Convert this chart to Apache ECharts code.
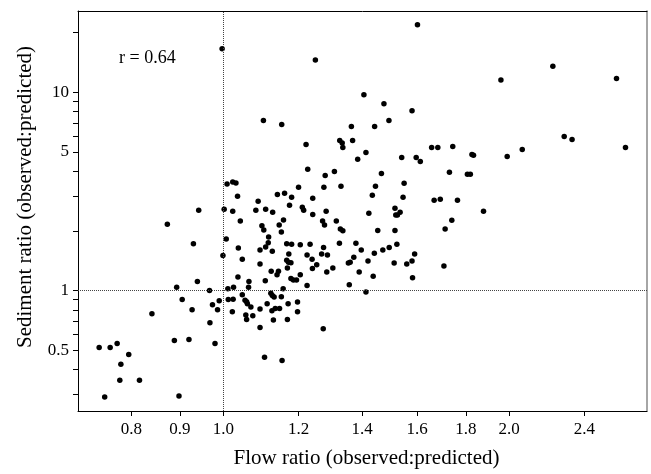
<!DOCTYPE html>
<html>
<head>
<meta charset="utf-8">
<script src="https://cdn.jsdelivr.net/npm/echarts@6/dist/echarts.min.js"></script>
<style>html,body{margin:0;padding:0;background:#fff}#c{width:651px;height:474px}</style>
</head>
<body>
<div id="c"></div>
<script>
const flowRatio = [
1.601,0.997,1.25,2.223,1.96,2.594,1.406,1.476,1.58,1.102,1.152,1.494,1.364,1.443,2.285,2.329,1.222,1.326,1.334,1.336,
1.368,1.413,1.385,1.657,1.682,1.744,2.651,2.064,1.827,1.834,1.99,1.541,1.596,1.612,1.227,1.309,1.28,1.467,1.73,1.807,
1.82,1.009,1.023,1.031,1.55,1.20,1.276,1.33,1.446,1.035,1.14,1.16,1.18,1.242,1.435,1.546,1.667,1.692,1.764,1.088,
1.879,0.942,1.002,1.023,1.082,1.108,1.127,1.174,1.211,1.215,1.242,1.283,1.423,1.516,1.519,1.525,1.535,
0.873,1.042,1.098,1.103,1.145,1.151,1.157,1.272,1.278,1.315,0.930,1.007,1.037,1.047,1.093,1.108,1.115,1.116,1.126,1.093,
1.166,1.180,1.172,1.205,1.234,1.225,1.240,1.275,1.269,1.287,1.325,1.241,1.254,1.285,1.304,1.166,1.171,1.168,1.178,1.123,
1.143,1.139,1.178,1.185,1.194,1.205,1.036,1.064,1.063,1.107,0.999,0.893,0.939,1.225,1.156,1.011,1.025,0.967,0.905,0.990,
1.012,1.024,1.047,1.054,1.058,1.060,1.069,1.112,1.122,1.126,1.131,1.151,1.170,1.197,0.841,0.927,0.974,0.986,1.022,0.968,
1.056,1.058,1.074,1.093,1.093,1.125,1.129,1.134,1.146,1.168,1.197,1.274,0.888,0.920,0.980,0.740,0.760,0.773,0.795,0.780,
0.778,0.816,0.750,0.898,1.105,1.153,
1.328,1.336,1.454,1.516,1.712,1.740,1.379,1.397,1.442,1.472,1.495,1.523,1.372,1.360,1.354,1.420,1.390,1.438,1.357,1.413,
1.513,1.560,1.580,1.590,1.582,1.707
];
const sedimentRatio = [
21.8,16.5,14.5,13.5,11.5,11.7,9.7,8.74,8.06,7.18,6.86,7.18,6.70,6.70,5.97,5.77,5.44,5.70,5.53,5.26,
5.70,4.96,4.58,5.26,5.26,5.32,5.26,5.14,4.85,4.80,4.74,4.68,4.68,4.47,4.08,3.98,3.80,3.89,3.94,3.85,
3.85,3.44,3.52,3.48,3.47,3.31,3.31,3.35,3.35,2.985,3.05,3.09,2.95,2.92,3.02,2.95,2.85,2.88,2.85,2.82,
2.51,2.54,2.57,2.51,2.54,2.57,2.48,2.69,2.63,2.54,2.42,2.51,2.45,2.60,2.40,2.40,2.48,
2.16,2.24,2.12,2.02,2.14,1.97,2.27,2.24,2.14,2.24,1.72,1.82,1.64,1.44,1.60,1.66,1.74,1.86,1.58,1.36,
1.72,1.71,1.53,1.70,1.71,1.51,1.44,1.65,1.53,1.51,1.73,1.29,1.35,1.24,1.30,1.42,1.39,1.30,1.38,1.25,
1.25,1.20,1.15,1.13,1.13,1.20,1.17,1.11,1.04,1.12,1.50,1.04,1.11,1.06,1.02,1.02,1.04,1.00,0.902,0.888,
0.902,0.905,0.952,0.895,0.878,0.858,0.826,0.858,0.970,0.944,0.927,0.930,0.858,0.875,0.765,0.801,0.848,0.801,0.782,0.689,
0.753,0.714,0.747,0.807,0.651,0.792,0.711,0.813,0.813,0.714,0.782,0.643,0.560,0.567,0.541,0.517,0.517,0.541,0.477,0.425,
0.353,0.353,0.291,0.294,0.461,0.445,
2.04,2.00,2.01,2.01,2.04,2.26,1.73,1.60,1.54,1.60,1.65,1.71,1.47,1.39,1.375,1.41,1.24,1.18,1.07,0.985,
1.375,1.36,1.41,1.53,1.16,1.33
];
const xTickLabels = [0.8, 0.9, 1.0, 1.2, 1.4, 1.6, 1.8, 2.0, 2.4];
const yTickLabels = [0.5, 1, 5, 10];
const yMinorTicks = [0.3,0.4,0.5,0.6,0.7,0.8,0.9,1,2,3,4,5,6,7,8,9,10,20];
const rValue = 'r = 0.64';

const points = flowRatio.map((x, i) => [x, sedimentRatio[i]]);
const FONT = 'Liberation Serif';

const chart = echarts.init(document.getElementById('c'), null, {renderer: 'canvas'});
chart.setOption({
  animation: false,
  backgroundColor: '#fff',
  grid: {left: 78, right: 4, top: 11, bottom: 60},
  xAxis: [{
    type: 'log', logBase: 10, min: 0.703, max: 2.793,
    name: 'Flow ratio (observed:predicted)', nameLocation: 'middle', nameGap: 37,
    nameTextStyle: {fontFamily: FONT, fontSize: 21, color: '#000', padding: [0, 0, 0, 8]},
    axisLine: {show: true, lineStyle: {color: '#000', width: 1}},
    axisTick: {show: true, inside: false, length: 5, customValues: xTickLabels, lineStyle: {color: '#000', width: 1}},
    axisLabel: {customValues: xTickLabels, margin: 10, fontFamily: FONT, fontSize: 17, color: '#000',
      formatter: v => Number(v).toFixed(1)},
    splitLine: {show: false}, minorTick: {show: false}
  }, {
    type: 'value', position: 'top', min: 0, max: 1,
    axisLine: {show: true, lineStyle: {color: '#000', width: 1}},
    axisTick: {show: false}, axisLabel: {show: false}, splitLine: {show: false}
  }],
  yAxis: [{
    type: 'log', logBase: 10, min: 0.2474, max: 25.6,
    name: 'Sediment ratio (observed:predicted)', nameLocation: 'middle', nameGap: 42, nameRotate: 90,
    nameTextStyle: {fontFamily: FONT, fontSize: 21, color: '#000', padding: [0, 0, 0, 28]},
    axisLine: {show: true, lineStyle: {color: '#000', width: 1}},
    axisTick: {show: true, inside: false, length: 5, customValues: yMinorTicks, lineStyle: {color: '#000', width: 1}},
    axisLabel: {customValues: yTickLabels, margin: 9, fontFamily: FONT, fontSize: 17, color: '#000',
      formatter: v => String(Number(Number(v).toPrecision(6)))},
    splitLine: {show: false}, minorTick: {show: false}
  }, {
    type: 'value', position: 'right', min: 0, max: 1,
    axisLine: {show: true, lineStyle: {color: '#888', width: 1.5}},
    axisTick: {show: false}, axisLabel: {show: false}, splitLine: {show: false}
  }],
  graphic: [{
    type: 'text', left: 119, top: 49,
    style: {text: rValue, font: '18px "Liberation Serif"', fill: '#000'}
  }],
  series: [{
    type: 'scatter', xAxisIndex: 0, yAxisIndex: 0,
    data: points, symbolSize: 5.5,
    itemStyle: {color: '#000', opacity: 1},
    markLine: {
      silent: true, symbol: 'none', label: {show: false},
      lineStyle: {type: 'dotted', color: '#444', width: 1},
      data: [{xAxis: 1}, {yAxis: 1}]
    }
  }]
});
</script>
</body>
</html>
